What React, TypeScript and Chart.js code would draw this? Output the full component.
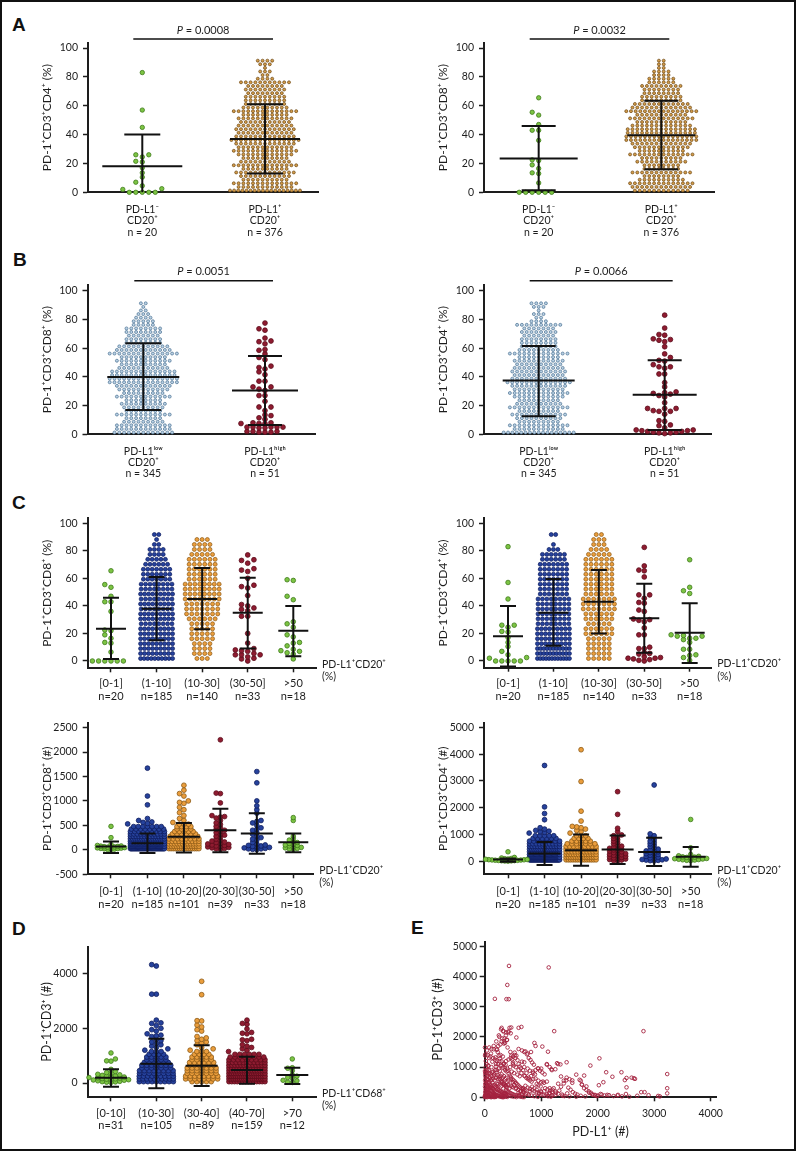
import React, { useEffect, useRef } from "react";
import { Chart, registerables } from "chart.js";

Chart.register(...registerables);

const FONT = "Lato, 'Open Sans', 'DejaVu Sans', sans-serif";
const INK = "#1d1d1d";

// ================= DATA =================
// tick labels
const pctTicks = [0, 20, 40, 60, 80, 100];
const cnt2500Ticks = [-500, 0, 500, 1000, 1500, 2000, 2500];
const cnt5000Ticks = [0, 1000, 2000, 3000, 4000, 5000];
const cntDTicks = [0, 2000, 4000];
const eXTicks = [0, 1000, 2000, 3000, 4000];
const eYTicks = [0, 1000, 2000, 3000, 4000, 5000];

// categories
const catsA = [["PD-L1⁻", "CD20⁺", "n = 20"], ["PD-L1⁺", "CD20⁺", "n = 376"]];
const catsB = [["PD-L1ˡᵒʷ", "CD20⁺", "n = 345"], ["PD-L1ʰⁱᵍʰ", "CD20⁺", "n = 51"]];
const catsCtop = [["[0-1]", "n=20"], ["(1-10]", "n=185"], ["(10-30]", "n=140"], ["(30-50]", "n=33"], [">50", "n=18"]];
const catsCbot = [["[0-1]", "n=20"], ["(1-10]", "n=185"], ["(10-20]", "n=101"], ["(20-30]", "n=39"], ["(30-50]", "n=33"], [">50", "n=18"]];
const catsD = [["[0-10]", "n=31"], ["(10-30]", "n=105"], ["(30-40]", "n=89"], ["(40-70]", "n=159"], [">70", "n=12"]];

// PD-1+ % values (explicit, small groups)
const cd4NegPct = [83, 57, 45, 26, 26, 24.5, 21.5, 21, 17, 13.5, 10.5, 7, 4.5, 2.5, 2, 0, 0, 0, 0, 0];
const cd8NegPct = [65.5, 55.5, 53.5, 47, 43, 43, 36, 22.5, 22, 19, 16.5, 13.5, 13, 6.5, 0, 0, 0, 0, 0, 0];
const cd8HighPct = [77.5, 73.5, 72.5, 67, 65, 64.5, 63, 59, 58.5, 53.5, 52, 47.5, 46.5, 45.5, 41.5, 37, 37, 33, 33, 31.5, 30.5, 27, 27, 19, 19, 16.5, 13.5, 13, 11.5, 8, 8, 7.5, 7.5, 7.5, 5, 5, 5, 5, 5, 4.5, 4.5, 2, 2, 2, 1.5, 1.5, 1.5, 10.5, 23, 43.5, 56];
const cd4HighPct = [83, 74, 69, 69.5, 64.5, 65.5, 66, 66.5, 61, 53.5, 51.5, 51, 48.5, 46, 47, 47, 42, 42, 36, 28.5, 27, 28, 29, 29.5, 26, 18, 18, 16, 16, 16.5, 18, 14, 9.5, 9, 6, 6.5, 4.5, 3, 3, 2.5, 2.5, 2, 2, 1.5, 1.5, 1, 1, 0.5, 22, 33, 56];
const cd8Pct30to50 = [77, 73.5, 73, 71, 67, 66, 65, 60, 55, 54, 53, 47.5, 41, 40, 38.5, 37.5, 36.5, 32.5, 32.5, 20, 13, 9, 8, 7, 7.5, 4.5, 4.5, 4.5, 3, 2, 1.5, 0, 5.5];
const cd8PctOver50 = [59, 58.5, 47, 44.5, 28.5, 27, 24.5, 19, 17.5, 13, 13.5, 11, 7, 8.5, 7.5, 6, 5, 1.5];
const cd4Pct30to50 = [82.5, 69, 66, 65.5, 61, 48, 48, 45.5, 42.5, 42, 37, 30.5, 30, 29.5, 28.5, 19, 19, 9, 9, 5, 3, 2.5, 2, 1.5, 1, 0.5, 0, 2, 6, 10, 24, 36, 5.5];
const cd4PctOver50 = [73.5, 53.5, 51, 49, 19, 18.5, 18, 18, 16.5, 15.5, 16.5, 13.5, 8.5, 8.5, 4.5, 2.5, 0.5, 4];

// PD-1+ % values, counts per 2.5 % bin (panels A, B)
const cd4PosBins = [18, 12, 14, 10, 11, 13, 10, 14, 11, 10, 12, 14, 12, 13, 15, 13, 12, 13, 12, 11, 12, 10, 14, 10, 9, 9, 9, 8, 9, 8, 11, 4, 2, 3, 1, 3, 4];
const cd8PosBins = [12, 13, 14, 10, 8, 13, 8, 8, 11, 9, 14, 10, 12, 13, 16, 16, 15, 15, 13, 11, 14, 11, 16, 13, 12, 9, 9, 8, 8, 9, 6, 6, 4, 4, 2, 2, 2];
const cd8LowBins = [13, 12, 12, 9, 8, 12, 8, 9, 10, 8, 12, 9, 11, 12, 15, 15, 14, 14, 11, 10, 12, 10, 15, 12, 11, 8, 8, 7, 8, 8, 5, 5, 4, 3, 2, 1, 2];
const cd4LowBins = [17, 11, 13, 9, 10, 12, 9, 13, 10, 9, 11, 13, 11, 12, 14, 12, 11, 12, 11, 10, 11, 9, 13, 9, 8, 8, 8, 7, 8, 7, 10, 4, 2, 3, 1, 3, 4];
// counts per 3.6 % bin (panel C top)
const cd8Bins1to10 = [10, 9, 9, 9, 9, 9, 9, 8, 9, 9, 8, 9, 8, 9, 8, 8, 7, 7, 7, 6, 5, 4, 4, 2, 1, 2];
const cd8Bins10to30 = [3, 4, 4, 4, 5, 5, 5, 5, 6, 7, 7, 7, 8, 8, 8, 8, 6, 6, 6, 6, 6, 5, 4, 4, 3, 0];
const cd4Bins1to10 = [12, 11, 11, 9, 9, 9, 9, 8, 8, 8, 8, 8, 8, 7, 7, 7, 7, 7, 7, 7, 6, 6, 3, 1, 0, 2];
const cd4Bins10to30 = [5, 5, 5, 5, 5, 6, 6, 5, 6, 6, 7, 7, 7, 6, 6, 6, 6, 6, 6, 6, 6, 5, 4, 3, 3, 2];

// PD-1+CD3+CD8+ counts (#)
const n8c0 = [480, 250, 110, 90, 80, 75, 70, 65, 60, 55, 50, 45, 40, 35, 30, 25, 20, 15, 10, 5];
const n8c1Tail = [1670, 1100, 920, 640, 600, 570, 560, 540, 530];
const n8c1Bins = [38, 30, 24, 20, 16, 13, 11, 9, 8, 7]; // per 50
const n8c2Tail = [1320, 1220, 1150, 1100, 1000, 970, 950, 870, 820, 760, 700, 640, 600, 560];
const n8c2Bins = [15, 13, 12, 10, 8, 7, 6, 5, 4, 4, 3]; // per 50
const n8c3 = [2250, 1160, 1150, 960, 700, 680, 670, 650, 600, 550, 520, 480, 450, 420, 400, 380, 350, 320, 300, 280, 260, 220, 200, 180, 160, 150, 130, 120, 110, 100, 90, 80, 70, 60, 50, 40, 30, 20, 10];
const n8c4 = [1600, 1370, 1000, 900, 820, 750, 600, 580, 550, 500, 450, 420, 400, 350, 320, 280, 250, 220, 200, 150, 120, 100, 90, 80, 70, 60, 50, 40, 30, 20, 20, 10, 5];
const n8c5 = [660, 600, 280, 230, 200, 170, 150, 130, 110, 100, 90, 80, 60, 50, 40, 30, 20, 10];

// PD-1+CD3+CD4+ counts (#)
const n4c0 = [350, 140, 120, 100, 90, 80, 70, 60, 55, 50, 45, 40, 35, 30, 25, 20, 15, 10, 5, 0];
const n4c1Tail = [3580, 2030, 1780, 1550, 1250, 1200, 1150, 1120, 1100, 1080, 1050];
const n4c1Bins = [40, 32, 26, 20, 15, 12, 10, 8, 6, 5]; // per 100
const n4c2Tail = [4170, 2980, 1870, 1500, 1300, 1280, 1250, 1200, 1150, 1100, 1050];
const n4c2Bins = [14, 14, 13, 11, 10, 9, 7, 5, 4, 3]; // per 100
const n4c3 = [2600, 1750, 1230, 1100, 980, 950, 900, 850, 800, 750, 700, 650, 600, 560, 520, 500, 480, 450, 420, 400, 380, 350, 320, 300, 280, 260, 240, 220, 200, 180, 160, 140, 120, 100, 80, 60, 40, 20, 10];
const n4c4 = [2850, 1020, 950, 880, 800, 750, 700, 650, 600, 550, 500, 450, 420, 400, 380, 350, 320, 300, 280, 250, 220, 200, 180, 150, 120, 100, 80, 60, 50, 40, 30, 20, 10];
const n4c5 = [1560, 500, 250, 200, 180, 160, 150, 140, 120, 100, 90, 80, 70, 60, 50, 40, 30, 20];

// PD-1+CD3+ counts by PD-L1+CD68+ (#)
const d0 = [1100, 880, 810, 800, 500, 420, 380, 350, 320, 300, 280, 260, 250, 240, 220, 200, 190, 180, 160, 150, 140, 130, 120, 110, 100, 80, 60, 50, 40, 30, 20];
const d1Tail = [4330, 4280, 3250, 3250, 2300, 2200, 2180, 2100, 2000, 1950, 1900, 1800, 1750, 1720, 1700, 1600, 1550, 1500, 1450, 1400, 1350, 1300, 1250, 1200];
const d1Bins = [9, 10, 9, 8, 8, 7, 7, 6, 5, 5, 4, 3]; // per 100
const d2Tail = [3720, 3230, 2280, 2270, 2120, 2050, 1950, 1900, 1700, 1650, 1600, 1550, 1500, 1450, 1400, 1300, 1250, 1200];
const d2Bins = [5, 8, 8, 7, 7, 7, 6, 6, 5, 5, 4, 3]; // per 100
const d3Tail = [2300, 2180, 2150, 1980, 1850, 1820, 1800, 1600, 1580, 1550, 1400, 1350, 1300, 1250, 1200, 1150];
const d3Bins = [14, 18, 18, 17, 15, 14, 13, 11, 9, 8, 6]; // per 100
const d4 = [880, 560, 540, 450, 300, 250, 200, 180, 100, 80, 30, 20];

// E: PD-L1+ (#) vs PD-1+CD3+ (#)
const eScatter: number[][] = [
  [430, 4350], [1133, 4300], [400, 3720], [180, 3260], [385, 3250], [425, 3250], [2810, 2190], [1230, 2190],
  [300, 2300], [470, 2310], [600, 2300], [650, 2330], [330, 2200], [380, 2150], [420, 2180], [460, 2120],
  [350, 1950], [390, 1900], [300, 1850], [340, 1780], [560, 1980], [250, 2050],
  [160, 1700], [80, 1650], [120, 1600], [210, 1580], [40, 1550], [50, 1400], [100, 1350], [150, 1300],
  [180, 1250], [230, 1500], [280, 1400], [320, 1350], [260, 1200], [200, 1100], [120, 1000], [60, 1050],
  [30, 900], [10, 800], [70, 800], [150, 850], [210, 900], [250, 950], [300, 1050], [340, 1100], [380, 1200],
  [420, 1250], [460, 1300], [500, 1350], [530, 1400], [600, 1600], [660, 1550], [700, 1500], [760, 1450],
  [820, 1500], [880, 1800], [1020, 1680], [1120, 1510], [2030, 1290], [1280, 1130], [1340, 1090], [1450, 1160],
  [1870, 1050], [2420, 830], [2150, 830], [2640, 630], [2480, 570], [2510, 640], [3230, 770], [3230, 300],
  [3230, 130], [2830, 170], [2770, 170], [3070, 45], [2500, 110], [2510, 330],
  [950, 950], [1000, 950], [1100, 1100], [1180, 930], [900, 900], [850, 850], [800, 880], [760, 950],
  [700, 1000], [650, 800], [600, 900], [550, 1000], [500, 1100], [450, 1000], [400, 950], [360, 900],
  [480, 850], [520, 800], [580, 750], [620, 700], [700, 720], [740, 800], [780, 650], [820, 700], [860, 600],
  [900, 620], [950, 550], [1000, 500], [1050, 480], [1100, 520], [1150, 300], [1200, 250], [1250, 200],
  [1300, 450], [1350, 350], [1400, 550], [1450, 650], [1500, 600], [1550, 560], [1620, 750], [1700, 550],
  [1720, 420], [1760, 300], [1800, 240], [1850, 150], [1900, 100], [1950, 80], [2000, 60], [2070, 90],
  [2170, 80], [2350, 60], [2020, 400], [2100, 500], [2260, 680],
  [1380, 50], [1300, 120], [1250, 80], [1200, 60], [1150, 140], [1100, 100], [1050, 200], [1000, 180],
  [960, 150], [920, 250], [880, 300], [840, 350], [800, 200], [760, 120], [720, 250], [680, 300], [640, 200],
  [600, 150], [560, 300], [520, 400], [480, 350], [440, 300], [400, 500], [360, 600], [320, 650], [280, 700],
  [240, 600], [200, 650], [160, 700], [120, 600], [80, 500], [40, 600], [20, 450], [60, 350], [100, 300],
  [140, 400], [180, 350], [220, 450], [260, 400], [300, 500], [340, 450], [380, 400], [420, 550], [460, 600],
  [500, 500],
  [5, 1650], [12, 1420], [8, 1380], [20, 1200], [35, 1100], [15, 980], [45, 920], [5, 870], [28, 820],
  [50, 760], [10, 720], [38, 690], [18, 640], [55, 600], [8, 560], [30, 520], [48, 480], [12, 450], [25, 410],
  [42, 380], [6, 350], [33, 320], [52, 290], [15, 260], [40, 240], [22, 210], [58, 190], [9, 170], [35, 150],
  [47, 130], [18, 110], [27, 95], [55, 80], [7, 65], [40, 50], [13, 40], [30, 30], [50, 22], [20, 15], [5, 8],
  [44, 5], [60, 60], [3, 25],
  [65, 1050], [72, 900], [80, 1300], [95, 780], [110, 1450], [120, 700], [135, 1180], [150, 620], [160, 1590],
  [175, 560], [190, 1320], [70, 480], [85, 420], [100, 380], [115, 340], [130, 300], [145, 270], [160, 240],
  [175, 210], [190, 180], [68, 160], [82, 140], [97, 120], [112, 100], [127, 90], [142, 75], [157, 60],
  [172, 50], [187, 40], [75, 30], [90, 20], [105, 12], [120, 5], [138, 25], [155, 15], [170, 8], [185, 28],
  [198, 12], [66, 260], [88, 330], [104, 230], [126, 205], [148, 150], [166, 110], [182, 95], [196, 70],
  [110, 560], [140, 480], [170, 400], [195, 350], [90, 640], [130, 820], [165, 760], [185, 900], [200, 1020],
  [205, 1850], [220, 1580], [240, 1700], [260, 2000], [275, 1750], [290, 2250], [310, 1950], [330, 2180],
  [345, 1850], [360, 1800], [375, 2050], [395, 1900], [215, 1220], [235, 1100], [250, 1380], [265, 1280],
  [280, 1050], [300, 1190], [320, 980], [335, 1120], [355, 960], [370, 1080], [385, 860], [210, 820],
  [228, 740], [246, 680], [262, 620], [278, 590], [296, 540], [312, 500], [328, 460], [344, 420], [360, 390],
  [376, 360], [392, 330], [205, 300], [222, 270], [238, 250], [255, 230], [270, 205], [287, 185], [303, 165],
  [320, 145], [337, 125], [353, 110], [370, 95], [386, 80], [212, 65], [230, 52], [247, 40], [264, 30],
  [281, 22], [298, 14], [315, 8], [332, 5], [349, 18], [366, 35], [383, 48], [398, 12], [225, 160], [258, 120],
  [292, 90], [325, 60], [358, 140], [390, 200], [240, 440], [285, 360], [330, 290], [375, 240], [268, 880],
  [300, 760], [340, 700], [380, 640],
  [405, 1650], [420, 2150], [440, 2300], [455, 1500], [470, 1380], [485, 1250], [500, 1150], [515, 1050],
  [530, 1480], [545, 1300], [560, 1380], [580, 1230], [600, 1100], [620, 1020], [640, 960], [660, 1180],
  [680, 900], [700, 1160], [410, 880], [425, 780], [445, 720], [465, 660], [490, 600], [510, 560], [535, 520],
  [555, 470], [575, 430], [595, 390], [615, 350], [635, 320], [655, 290], [675, 260], [695, 230], [415, 190],
  [435, 160], [455, 140], [475, 120], [495, 100], [520, 85], [545, 70], [570, 55], [595, 42], [620, 30],
  [645, 20], [670, 12], [695, 6], [430, 60], [470, 35], [510, 18], [560, 8], [610, 75], [660, 110], [690, 160],
  [415, 420], [460, 380], [505, 330], [550, 280], [590, 240], [630, 200], [680, 170],
  [720, 1520], [750, 1420], [780, 1300], [810, 1240], [840, 1150], [870, 1080], [900, 1700], [940, 960],
  [980, 880], [1020, 820], [1060, 760], [1100, 1080], [1150, 1000], [1190, 900], [710, 700], [740, 640],
  [770, 600], [800, 560], [830, 520], [860, 800], [890, 760], [920, 440], [950, 400], [990, 360], [1030, 520],
  [1070, 300], [1110, 260], [1160, 220], [1195, 180], [720, 380], [760, 320], [800, 280], [840, 240],
  [880, 200], [920, 160], [960, 120], [1000, 90], [1040, 70], [1080, 50], [1120, 35], [1170, 20], [730, 120],
  [780, 80], [830, 55], [880, 35], [940, 15], [990, 200], [1140, 130], [1180, 60],
  [1250, 930], [1300, 1100], [1350, 690], [1400, 460], [1440, 560], [1480, 320], [1520, 250], [1560, 170],
  [1600, 120], [1640, 90], [1680, 580], [1720, 420], [1760, 720], [1800, 360], [1840, 200], [1880, 150],
  [1920, 80], [1960, 60], [1990, 40], [1220, 300], [1260, 150], [1320, 220], [1370, 90], [1410, 40],
  [1460, 130], [1500, 30], [1550, 480], [1620, 20], [1700, 50], [1780, 30],
  [2050, 110], [2120, 60], [2200, 70], [2280, 40], [2360, 80], [2430, 30], [2560, 20], [2600, 650],
  [2660, 610], [2700, 50], [2900, 70], [3100, 30],
];

// ================= STYLES =================
const GREEN = { r: 2.3, bw: 0.8, fill: "#7cc443", line: "#3f7a1c" };
const TAN = { r: 1.5, bw: 0.7, fill: "#d39c4a", line: "#6b4612" };
const LBLUE = { r: 1.5, bw: 0.7, fill: "#b9d0e3", line: "#4b7192" };
const WINE = { r: 2.4, bw: 0.8, fill: "#8e1b30", line: "#5c0c1b" };
const NAVY = { r: 2.4, bw: 0.8, fill: "#26429c", line: "#0f1d5e" };
const ORANGE = { r: 2.4, bw: 0.8, fill: "#ea9d3c", line: "#8d5a17" };

type Group = {
  vals?: number[]; bins?: number[]; binW?: number; sx?: number; maxW?: number;
  d: number; tol?: number; r: number; bw: number; fill: string; line: string;
  mean: number; lo: number; hi: number; mw: number; cw: number;
};

type Spec = {
  key: string; box: number[]; plot: number[];
  xMin: number; xMax: number; yMin: number; yMax: number;
  yTicks: number[]; yTitle: string; yTitleX: number; yTitleSize: number; yTickPad: number;
  cats?: string[][]; xTicks?: number[]; catSize: number; catLH: number; catTick: number; catPad: number;
  xTitle?: string; xTitleSize?: number; xTitlePadBottom?: number;
  groups?: Group[]; points?: number[][];
  pval?: string; pLine?: number; pText?: number; note?: string;
};

// Row-based beeswarm: bins become centred rows; explicit values are pushed sideways
// until no point in the same row band (|dy| < tol) lies closer than d.
function layoutGroup(g: Group, cat: number, pxX: number, pxY: number) {
  const placed: { x: number; y: number }[] = [];
  const out: { x: number; y: number }[] = [];
  if (g.bins) {
    g.bins.forEach((c, i) => {
      if (!c) return;
      const v = (i + 0.5) * (g.binW as number);
      const sp = c > 1 ? Math.min(g.sx as number, (g.maxW as number) / (c - 1)) : 0;
      for (let j = 0; j < c; j++) {
        const off = (j - (c - 1) / 2) * sp;
        placed.push({ x: off, y: v * pxY });
        out.push({ x: cat + off / pxX, y: v });
      }
    });
  }
  if (g.vals) {
    const sorted = [...g.vals].sort((a, b) => a - b);
    const d = g.d;
    const tol = g.tol ?? d * 0.62;
    const step = d / 2;
    for (const v of sorted) {
      const y = v * pxY;
      let off = 0;
      for (let i = 0; i < 800; i++) {
        off = (i % 2 === 1 ? -1 : 1) * Math.ceil(i / 2) * step;
        let ok = true;
        for (const p of placed) {
          if (Math.abs(p.y - y) >= tol) continue;
          if (Math.abs(p.x - off) < d - 0.01) { ok = false; break; }
        }
        if (ok) break;
      }
      placed.push({ x: off, y });
      out.push({ x: cat + off / pxX, y: v });
    }
  }
  return out;
}

function overlayPlugin(s: Spec) {
  return {
    id: "overlay_" + s.key,
    afterDatasetsDraw(chart: any) {
      const { ctx, chartArea: ca } = chart;
      const x = chart.scales.x;
      const y = chart.scales.y;
      if (s.groups) {
        ctx.save();
        ctx.beginPath();
        ctx.rect(ca.left, ca.top, ca.right - ca.left, ca.bottom - ca.top);
        ctx.clip();
        ctx.strokeStyle = "#111";
        ctx.lineWidth = 2;
        s.groups.forEach((g, i) => {
          const cx = x.getPixelForValue(i);
          const ym = y.getPixelForValue(g.mean);
          const yl = y.getPixelForValue(g.lo);
          const yh = y.getPixelForValue(g.hi);
          ctx.beginPath();
          ctx.moveTo(cx, yh); ctx.lineTo(cx, yl);
          ctx.moveTo(cx - g.mw, ym); ctx.lineTo(cx + g.mw, ym);
          ctx.moveTo(cx - g.cw, yh); ctx.lineTo(cx + g.cw, yh);
          ctx.moveTo(cx - g.cw, yl); ctx.lineTo(cx + g.cw, yl);
          ctx.stroke();
        });
        ctx.restore();
      }
      if (s.pval) {
        ctx.save();
        const x0 = x.getPixelForValue(0) - 9;
        const x1 = x.getPixelForValue(1) + 8;
        const ly = ca.top - (s.pLine as number);
        ctx.strokeStyle = "#111";
        ctx.lineWidth = 1.6;
        ctx.beginPath(); ctx.moveTo(x0, ly); ctx.lineTo(x1, ly); ctx.stroke();
        const it = `italic 11px ${FONT}`;
        const rg = `11px ${FONT}`;
        ctx.font = it; const w1 = ctx.measureText("P").width;
        const rest = " = " + s.pval;
        ctx.font = rg; const w2 = ctx.measureText(rest).width;
        const sx0 = (x0 + x1) / 2 - (w1 + w2) / 2;
        const ty = ca.top - (s.pText as number);
        ctx.fillStyle = INK; ctx.textBaseline = "middle"; ctx.textAlign = "left";
        ctx.font = it; ctx.fillText("P", sx0, ty);
        ctx.font = rg; ctx.fillText(rest, sx0 + w1, ty);
        ctx.restore();
      }
      if (s.note) {
        ctx.save();
        ctx.font = `10.5px ${FONT}`;
        ctx.fillStyle = INK; ctx.textAlign = "left"; ctx.textBaseline = "middle";
        ctx.fillText(s.note, ca.right + 6, ca.bottom - 4);
        ctx.fillText("(%)", ca.right + 6, ca.bottom + 8.5);
        ctx.restore();
      }
    },
  };
}

function makeConfig(s: Spec): any {
  const [bx, by, bw, bh] = s.box;
  const [l, t, r, b] = s.plot;
  const pxX = (r - l) / (s.xMax - s.xMin);
  const pxY = (b - t) / (s.yMax - s.yMin);
  const datasets: any[] = [];
  (s.groups || []).forEach((g, i) => {
    datasets.push({
      data: layoutGroup(g, i, pxX, pxY),
      pointRadius: g.r, pointHoverRadius: g.r,
      pointBackgroundColor: g.fill, pointBorderColor: g.line, pointBorderWidth: g.bw,
      showLine: false, clip: false,
    });
  });
  if (s.points) {
    datasets.push({
      data: s.points.map((p) => ({ x: p[0], y: p[1] })),
      pointRadius: 1.8, pointHoverRadius: 1.8,
      pointBackgroundColor: "rgba(255,255,255,0)", pointBorderColor: "#a5233f", pointBorderWidth: 0.9,
      showLine: false, clip: false,
    });
  }
  const tLH = s.yTitleSize * 1.2;
  return {
    type: "scatter",
    data: { datasets },
    plugins: [overlayPlugin(s)],
    options: {
      responsive: false, maintainAspectRatio: false, animation: false, devicePixelRatio: 1, events: [],
      layout: { autoPadding: false, padding: { left: 0, top: t - by, right: bx + bw - r, bottom: 0 } },
      plugins: { legend: { display: false }, tooltip: { enabled: false }, title: { display: false } },
      scales: {
        x: {
          type: "linear", position: "bottom", min: s.xMin, max: s.xMax,
          afterFit: (sc: any) => { sc.height = by + bh - b; },
          afterBuildTicks: (sc: any) => {
            const vals = s.cats ? s.cats.map((_, i) => i) : (s.xTicks as number[]);
            sc.ticks = vals.map((v) => ({ value: v }));
          },
          ticks: {
            autoSkip: false, maxRotation: 0, minRotation: 0, padding: s.catPad, color: INK,
            font: { family: FONT, size: s.catSize, lineHeight: s.catLH / s.catSize },
            callback: (v: number) => (s.cats ? s.cats[Math.round(v)] : String(v)),
          },
          grid: {
            display: true, drawOnChartArea: false, drawTicks: s.catTick > 0,
            tickLength: s.catTick, tickColor: INK, tickWidth: 1.5,
          },
          border: { display: true, color: INK, width: 2 },
          title: s.xTitle
            ? { display: true, text: s.xTitle, color: INK, font: { family: FONT, size: s.xTitleSize, lineHeight: 1.2 }, padding: { top: 0, bottom: s.xTitlePadBottom } }
            : { display: false },
        },
        y: {
          type: "linear", position: "left", min: s.yMin, max: s.yMax,
          afterFit: (sc: any) => { sc.width = l - bx; },
          afterBuildTicks: (sc: any) => { sc.ticks = s.yTicks.map((v) => ({ value: v })); },
          ticks: { padding: s.yTickPad, color: INK, font: { family: FONT, size: 10.5 }, callback: (v: number) => String(v) },
          grid: { display: true, drawOnChartArea: false, drawTicks: true, tickLength: 5, tickColor: INK, tickWidth: 1.5 },
          border: { display: true, color: INK, width: 2 },
          title: {
            display: true, text: s.yTitle, color: INK,
            font: { family: FONT, size: s.yTitleSize, lineHeight: 1.2 },
            padding: { top: s.yTitleX - bx - tLH / 2, bottom: 0 },
          },
        },
      },
    },
  };
}

// ================= SPECS =================
const pctBase = { yMin: 0, yTicks: pctTicks, yTitleSize: 12, yTickPad: 5, catSize: 10.5, catTick: 0 };
const big = { binW: 2.5, sx: 4.8, maxW: 70, d: 3 };
const cTop = { mw: 15, cw: 8 };
const cTopBin = { binW: 3.6, d: 4 };

const specs: Spec[] = [
  {
    key: "A1", ...pctBase, box: [10, 18, 386, 224], plot: [88, 43, 318, 192.3],
    xMin: -0.4425, xMax: 1.432, yMax: 103.5, yTitle: "PD-1⁺CD3⁺CD4⁺ (%)", yTitleX: 46.7,
    cats: catsA, catLH: 11.5, catPad: 11.2, pval: "0.0008", pLine: 4, pText: 12.3,
    groups: [
      { vals: cd4NegPct, d: 6.5, tol: 4, ...GREEN, r: 2.2, mean: 18, lo: -4, hi: 40, mw: 40, cw: 18 },
      { bins: cd4PosBins, ...big, ...TAN, mean: 37, lo: 13, hi: 61, mw: 35, cw: 18 },
    ],
  },
  {
    key: "A2", ...pctBase, box: [400, 18, 388, 224], plot: [484, 43, 714.7, 192.3],
    xMin: -0.446, xMax: 1.4356, yMax: 103.5, yTitle: "PD-1⁺CD3⁺CD8⁺ (%)", yTitleX: 443,
    cats: catsA, catLH: 11.5, catPad: 11.2, pval: "0.0032", pLine: 4, pText: 12.3,
    groups: [
      { vals: cd8NegPct, d: 6.5, tol: 4, ...GREEN, r: 2.2, mean: 23.5, lo: 1.5, hi: 46, mw: 39, cw: 17 },
      { bins: cd8PosBins, ...big, ...TAN, mean: 39.5, lo: 16, hi: 63.5, mw: 34, cw: 17 },
    ],
  },
  {
    key: "B1", ...pctBase, box: [10, 258, 386, 226], plot: [87.5, 285, 315, 434.3],
    xMin: -0.4585, xMax: 1.411, yMax: 104, yTitle: "PD-1⁺CD3⁺CD8⁺ (%)", yTitleX: 46.7,
    cats: catsB, catLH: 11.2, catPad: 11.8, pval: "0.0051", pLine: 4.3, pText: 13.3,
    groups: [
      { bins: cd8LowBins, ...big, ...LBLUE, mean: 40, lo: 17, hi: 63.5, mw: 36, cw: 18 },
      { vals: cd8HighPct, d: 6, tol: 3.6, ...WINE, mean: 30.5, lo: 6.5, hi: 54.5, mw: 33, cw: 17 },
    ],
  },
  {
    key: "B2", ...pctBase, box: [400, 258, 388, 226], plot: [484, 285, 711.3, 434.3],
    xMin: -0.434, xMax: 1.37, yMax: 104, yTitle: "PD-1⁺CD3⁺CD4⁺ (%)", yTitleX: 443,
    cats: catsB, catLH: 11.2, catPad: 11.8, pval: "0.0066", pLine: 4.3, pText: 13.3,
    groups: [
      { bins: cd4LowBins, ...big, ...LBLUE, mean: 37.5, lo: 12.5, hi: 61.5, mw: 36, cw: 17 },
      { vals: cd4HighPct, d: 5.7, tol: 3.6, ...WINE, mean: 27.5, lo: 3, hi: 51.5, mw: 32, cw: 17 },
    ],
  },
  {
    key: "C1", yTicks: pctTicks, yTitleSize: 12, yTickPad: 5, box: [10, 498, 386, 212], plot: [87.7, 518.3, 316, 668.3],
    xMin: -0.511, xMax: 4.498, yMin: -5.3, yMax: 103.6, yTitle: "PD-1⁺CD3⁺CD8⁺ (%)", yTitleX: 46.7,
    cats: catsCtop, catSize: 11, catLH: 13.4, catTick: 4, catPad: 4.3, note: "PD-L1⁺CD20⁺",
    groups: [
      { vals: cd8NegPct, d: 6.2, tol: 4, ...GREEN, mean: 23.5, lo: 1.5, hi: 46, ...cTop },
      { bins: cd8Bins1to10, ...cTopBin, sx: 4.4, maxW: 32, ...NAVY, r: 2.0, bw: 0.7, mean: 38, lo: 15, hi: 61, ...cTop },
      { bins: cd8Bins10to30, ...cTopBin, sx: 5.2, maxW: 34, ...ORANGE, r: 2.0, bw: 0.7, mean: 45, lo: 23, hi: 67.5, ...cTop },
      { vals: cd8Pct30to50, d: 6.2, tol: 4, ...WINE, mean: 35, lo: 9, hi: 60.5, ...cTop },
      { vals: cd8PctOver50, d: 6.2, tol: 4, ...GREEN, mean: 22, lo: 3.5, hi: 40, ...cTop },
    ],
  },
  {
    key: "C2", yTicks: pctTicks, yTitleSize: 12, yTickPad: 5, box: [400, 498, 390, 212], plot: [484, 518.3, 711.3, 667.7],
    xMin: -0.529, xMax: 4.476, yMin: -4.87, yMax: 103.6, yTitle: "PD-1⁺CD3⁺CD4⁺ (%)", yTitleX: 443,
    cats: catsCtop, catSize: 11, catLH: 13.4, catTick: 4, catPad: 4.9, note: "PD-L1⁺CD20⁺",
    groups: [
      { vals: cd4NegPct, d: 6.2, tol: 4, ...GREEN, mean: 18, lo: -4, hi: 40, ...cTop },
      { bins: cd4Bins1to10, ...cTopBin, sx: 4.4, maxW: 32, ...NAVY, r: 2.0, bw: 0.7, mean: 35, lo: 11, hi: 59.5, ...cTop },
      { bins: cd4Bins10to30, ...cTopBin, sx: 5.2, maxW: 34, ...ORANGE, r: 2.0, bw: 0.7, mean: 43, lo: 20, hi: 66, ...cTop },
      { vals: cd4Pct30to50, d: 5.4, tol: 3.6, ...WINE, mean: 31, lo: 6, hi: 56, ...cTop },
      { vals: cd4PctOver50, d: 6.2, tol: 4, ...GREEN, mean: 20.5, lo: -1.5, hi: 42, ...cTop },
    ],
  },
  {
    key: "C3", yTicks: cnt2500Ticks, yTitleSize: 12, yTickPad: 5, box: [10, 712, 386, 202], plot: [87.7, 721.7, 313.3, 874.3],
    xMin: -0.639, xMax: 5.549, yMin: -500, yMax: 2587, yTitle: "PD-1⁺CD3⁺CD8⁺ (#)", yTitleX: 46.7,
    cats: catsCbot, catSize: 11, catLH: 13.3, catTick: 4, catPad: 6.7, note: "PD-L1⁺CD20⁺",
    groups: [
      { vals: n8c0, d: 3.4, tol: 2.2, ...GREEN, mean: 67, lo: -67, hi: 168, mw: 15, cw: 8 },
      { vals: n8c1Tail, bins: n8c1Bins, binW: 50, sx: 4.6, maxW: 34, d: 4.4, tol: 3, ...NAVY, mean: 134, lo: -67, hi: 336, mw: 16, cw: 8 },
      { vals: n8c2Tail, bins: n8c2Bins, binW: 50, sx: 4.6, maxW: 30, d: 4.4, tol: 3, ...ORANGE, mean: 269, lo: -54, hi: 551, mw: 16, cw: 8 },
      { vals: n8c3, d: 4.2, tol: 2.6, ...WINE, mean: 403, lo: -47, hi: 840, mw: 16, cw: 8 },
      { vals: n8c4, d: 4.2, tol: 2.6, ...NAVY, mean: 336, lo: -81, hi: 746, mw: 16, cw: 8 },
      { vals: n8c5, d: 4, tol: 2.4, ...GREEN, mean: 155, lo: -47, hi: 336, mw: 15, cw: 8 },
    ],
  },
  {
    key: "C4", yTicks: cnt5000Ticks, yTitleSize: 12, yTickPad: 5, box: [400, 712, 390, 202], plot: [484, 721.7, 711.3, 874.3],
    xMin: -0.657, xMax: 5.564, yMin: -492.6, yMax: 5159, yTitle: "PD-1⁺CD3⁺CD4⁺ (#)", yTitleX: 443,
    cats: catsCbot, catSize: 11, catLH: 13.3, catTick: 4, catPad: 6.7, note: "PD-L1⁺CD20⁺",
    groups: [
      { vals: n4c0, d: 3.2, tol: 2, ...GREEN, mean: 62, lo: -25, hi: 100, mw: 15, cw: 8 },
      { vals: n4c1Tail, bins: n4c1Bins, binW: 100, sx: 4.6, maxW: 30, d: 4.4, tol: 3, ...NAVY, mean: 284, lo: -148, hi: 716, mw: 16, cw: 8 },
      { vals: n4c2Tail, bins: n4c2Bins, binW: 100, sx: 4.6, maxW: 30, d: 4.4, tol: 3, ...ORANGE, mean: 408, lo: -173, hi: 1000, mw: 16, cw: 8 },
      { vals: n4c3, d: 4, tol: 2.4, ...WINE, mean: 432, lo: -111, hi: 963, mw: 16, cw: 8 },
      { vals: n4c4, d: 4, tol: 2.4, ...NAVY, mean: 346, lo: -185, hi: 877, mw: 16, cw: 8 },
      { vals: n4c5, d: 4, tol: 2.2, ...GREEN, mean: 160, lo: -210, hi: 531, mw: 15, cw: 8 },
    ],
  },
  {
    key: "D", yTicks: cntDTicks, yTitleSize: 12.5, yTickPad: 5, box: [10, 930, 386, 212], plot: [87.7, 946.7, 316, 1097.3],
    xMin: -0.514, xMax: 4.523, yMin: -523, yMax: 4987, yTitle: "PD-1⁺CD3⁺ (#)", yTitleX: 46.7,
    cats: catsD, catSize: 11, catLH: 12.7, catTick: 4, catPad: 5.6, note: "PD-L1⁺CD68⁺",
    groups: [
      { vals: d0, d: 4.4, tol: 2.8, ...GREEN, mean: 195, lo: -134, hi: 500, mw: 16, cw: 8 },
      { vals: d1Tail, bins: d1Bins, binW: 100, sx: 4.8, maxW: 34, d: 4.6, tol: 3, ...NAVY, mean: 708, lo: -195, hi: 1623, mw: 16, cw: 8 },
      { vals: d2Tail, bins: d2Bins, binW: 100, sx: 4.8, maxW: 32, d: 4.6, tol: 3, ...ORANGE, mean: 634, lo: -110, hi: 1379, mw: 16, cw: 8 },
      { vals: d3Tail, bins: d3Bins, binW: 100, sx: 4.8, maxW: 36, d: 4.6, tol: 3, ...WINE, mean: 476, lo: -24, hi: 964, mw: 16, cw: 8 },
      { vals: d4, d: 4.6, tol: 2.8, ...GREEN, mean: 293, lo: -37, hi: 561, mw: 16, cw: 8 },
    ],
  },
  {
    key: "E", yTicks: eYTicks, yTitleSize: 13, yTickPad: 2.5, box: [400, 930, 390, 216], plot: [484.7, 941.7, 716.3, 1097.3],
    xMin: 0, xMax: 4099, yMin: 0, yMax: 5152, yTitle: "PD-1⁺CD3⁺ (#)", yTitleX: 438,
    xTicks: eXTicks, catSize: 10.5, catLH: 12.6, catTick: 4, catPad: 5.7,
    xTitle: "PD-L1⁺ (#)", xTitleSize: 12.5, xTitlePadBottom: 6.8,
    points: eScatter,
  },
];

function ChartCanvas({ spec }: { spec: Spec }) {
  const ref = useRef<HTMLCanvasElement>(null);
  useEffect(() => {
    const chart = new Chart(ref.current as HTMLCanvasElement, makeConfig(spec));
    return () => chart.destroy();
  }, [spec]);
  const [x, y, w, h] = spec.box;
  return (
    <canvas
      ref={ref}
      width={w}
      height={h}
      style={{ position: "absolute", left: x, top: y, width: w, height: h }}
    />
  );
}

const letters = [
  { t: "A", x: 12, y: 14.5 },
  { t: "B", x: 13, y: 249.5 },
  { t: "C", x: 12, y: 492.5 },
  { t: "D", x: 12, y: 919 },
  { t: "E", x: 411, y: 917.5 },
];

export default function App() {
  return (
    <div style={{ position: "absolute", left: 0, top: 0, width: 796, height: 1154, background: "#fff", overflow: "hidden" }}>
      <div style={{ position: "absolute", left: 0, top: 0, width: 796, height: 1151, border: "2.5px solid #111", boxSizing: "border-box" }} />
      {letters.map((l) => (
        <div
          key={l.t}
          style={{
            position: "absolute", left: l.x, top: l.y, fontFamily: "'Liberation Sans', Arial, sans-serif",
            fontWeight: 700, fontSize: 19, lineHeight: 1, color: "#111",
          }}
        >
          {l.t}
        </div>
      ))}
      {specs.map((s) => (
        <ChartCanvas key={s.key} spec={s} />
      ))}
    </div>
  );
}
